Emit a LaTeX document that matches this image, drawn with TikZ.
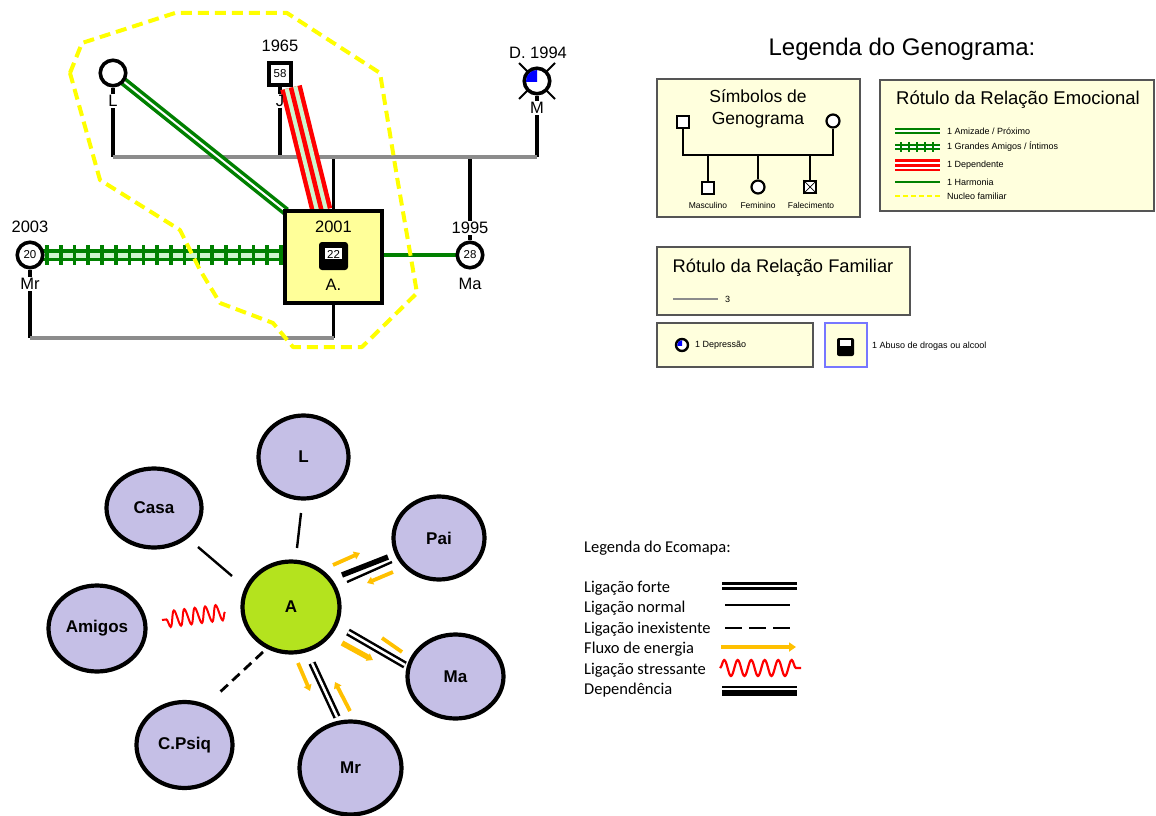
\documentclass[tikz,border=0pt]{standalone}
\usepackage{fontspec}
\setmainfont{Liberation Sans}
\newfontfamily\calfont{Carlito}
\usetikzlibrary{calc,decorations.pathmorphing,arrows.meta,shapes.geometric}
\newcommand{\myfs}[1]{\fontsize{#1}{#1}\selectfont}
\definecolor{gline}{HTML}{8C8C8C}
\definecolor{ggreen}{HTML}{008000}
\definecolor{lgreen}{HTML}{CFF5CF}
\definecolor{gred}{HTML}{FF0000}
\definecolor{ayellow}{HTML}{FFFF99}
\definecolor{nucleo}{HTML}{FFFF00}
\definecolor{legfill}{HTML}{FFFFDD}
\definecolor{legborder}{HTML}{555555}
\definecolor{bluebrd}{HTML}{7777FF}
\definecolor{lav}{HTML}{C5BFE6}
\definecolor{lime}{HTML}{B4E31E}
\definecolor{energy}{HTML}{FFC000}
\pgfdeclarelayer{bg}
\pgfsetlayers{bg,main}
\tikzset{
  lbl/.style={font=\myfs{16.5}, inner sep=1pt},
  fem/.style={circle, draw, line width=3.6, fill=white, minimum size=25.5, inner sep=0},
  male/.style={rectangle, draw, line width=3.6, fill=white, minimum size=22.5, inner sep=0},
  abox/.style={rectangle, draw, line width=4, fill=ayellow, minimum width=97, minimum height=92},
  famline/.style={draw=gline, line width=4.5},
  vline/.style={draw=black, line width=3.5},
  legbox/.style={fill=legfill, draw=legborder, line width=1.6},
  small/.style={font=\myfs{9}, inner sep=0, anchor=west},
  smale/.style={rectangle, draw, line width=2.2, fill=white, minimum size=11.5, inner sep=0},
  sfem/.style={circle, draw, line width=2.2, fill=white, minimum size=13, inner sep=0},
  sline/.style={draw=black, line width=2.4},
  eco/.style={ellipse, draw, line width=4.2, fill=lav, font=\bfseries\myfs{17}, inner sep=0},
  enorm/.style={draw=black, line width=2.4},
  energyarrow/.style={draw=energy, line width=3.8, -{Triangle[length=6pt,width=8pt]}},
  ecoleg/.style={font=\calfont\myfs{16.5}, anchor=base west, inner sep=0},
}
\begin{document}
\begin{tikzpicture}[x=1pt,y=-1pt]
\begin{pgfonlayer}{bg}
\fill[white] (0,0) rectangle (1156,816);
\end{pgfonlayer}
\useasboundingbox (0,0) rectangle (1156,816);

% ================= GENOGRAM =================
\node[fem] (L) at (113,73) {};
\node[male] (J) at (280,74) {\myfs{11.5}58};
\node[fem] (M) at (537,81) {};
\node[abox] (A) at (333.5,256.5) {};
\node[fem] (Ma) at (470,255) {\myfs{11.5}28};
\node[fem] (Mr) at (30,255) {\myfs{11.5}20};
\coordinate (sib) at (0,157);
\coordinate (bot) at (0,338);
\node[lbl] (tJ) at (280,101) {J};

% depression quarter in M
\begin{scope}
\clip (M.center) rectangle ++(-13,-13);
\fill[blue] (M.center) circle[radius=11pt];
\end{scope}

\begin{pgfonlayer}{bg}
% deceased marks
\draw[line width=1.8] ($(M)+(-18,-18)$) -- ($(M)+(18,18)$);
\draw[line width=1.8] ($(M)+(18,-18)$) -- ($(M)+(-18,18)$);
% family lines
\draw[vline] (L.south) -- (L.south |- sib);
\draw[vline] (J.south) -- (tJ.north);
\draw[vline] (tJ.south) -- (tJ.south |- sib);
\draw[vline] (M.south) -- (M.south |- sib);
\draw[vline] (A.north) -- (A.north |- sib);
\draw[vline] (Ma.north) -- (Ma.north |- sib);
\draw[famline] (L.south |- sib) -- (M.south |- sib);
\draw[vline] (Mr.south) -- (Mr.south |- bot);
\draw[vline] (A.south) -- (A.south |- bot);
\draw[famline] (Mr.south |- bot) -- (A.south |- bot);
% emotional relations
\draw[ggreen, line width=9] (L.center) -- ($(A.north west)+(3,3)$);
\draw[white, line width=2] (L.center) -- ($(A.north west)+(3,3)$);
\coordinate (Jr) at ($(J.south)+(11,0.5)$);
\coordinate (Ar) at ($(A.north)+(-12,2)$);
\draw[gred, line width=22] (Jr) -- (Ar);
\draw[lgreen, line width=13] (Jr) -- (Ar);
\draw[gred, line width=4.5] (Jr) -- (Ar);
\draw[ggreen, line width=12.5] (Mr.center) -- (Mr.center -| A.center);
\draw[lgreen, line width=5] (Mr.center) -- (Mr.center -| A.center);
\foreach \i in {0,...,17}
  \draw[ggreen, line width=3.6] ($(Mr.center)+(17+13.76*\i,-10)$) -- ++(0,20);
\draw[ggreen, line width=4.5] (A.center |- Ma.center) -- (Ma.center);
\end{pgfonlayer}

% A icon
\node[fill=black, rounded corners=3pt, minimum width=29, minimum height=28, inner sep=0] (Aicon) at (333.5,256) {};
\node[fill=white, minimum width=17, minimum height=11, inner sep=0] (Aiconw) at (333.5,253.5) {};
\node[font=\myfs{11.5}, inner sep=0] (Aage) at (333.5,254.5) {22};

% labels
\node[lbl, fill=white] (tL) at (113,101) {L};
\node[lbl] (tJy) at (280,46) {1965};
\node[lbl] (tMy) at (538,53) {D. 1994};
\node[lbl, fill=white] (tM) at (537,108) {M};
\node[lbl] (tAy) at (333.5,227) {2001};
\node[lbl] (tA) at (333.5,285) {A.};
\node[lbl, fill=white] (tMay) at (470,228) {1995};
\node[lbl] (tMa) at (470,284) {Ma};
\node[lbl] (tMry) at (30,227) {2003};
\node[lbl, fill=white] (tMr) at (30,284) {Mr};

% nucleo familiar
\draw[nucleo, line width=4, dash pattern=on 11pt off 6pt, line join=round]
  (70,73) -- (82,43) -- (175,13) -- (287,13) -- (380,73) -- (397,177) -- (417,293)
  -- (362,347) -- (293,347) -- (273,323) -- (220,303) -- (200,270) -- (180,230)
  -- (100,180) -- cycle;

% ================= GENOGRAM LEGEND =================
\node[font=\myfs{24}] (legtitle) at (902,49) {Legenda do Genograma:};

% box 1
\draw[legbox] (657,79) rectangle (860,217);
\node[font=\fontsize{17.5}{22}\selectfont, align=center] (symtitle) at (758,109) {Símbolos de\\Genograma};
\node[smale] (s1) at (683,122) {};
\node[sfem] (s2) at (833,121) {};
\node[smale] (c1) at (708,188) {};
\node[sfem] (c2) at (758,187) {};
\node[smale] (c3) at (810,187) {};
\draw[line width=0.7] (c3.north west) -- (c3.south east) (c3.north east) -- (c3.south west);
\coordinate (sb) at (0,155);
\draw[sline] (s1.south) -- (s1.south |- sb) -- (s2.south |- sb) -- (s2.south);
\draw[sline] (c1.north |- sb) -- (c1.north);
\draw[sline] (c2.north |- sb) -- (c2.north);
\draw[sline] (c3.north |- sb) -- (c3.north);
\node[font=\myfs{8.5}, inner sep=0] (c1t) at (708,205) {Masculino};
\node[font=\myfs{8.5}, inner sep=0] (c2t) at (758,205) {Feminino};
\node[font=\myfs{8.5}, inner sep=0] (c3t) at (811,205) {Falecimento};

% box 2
\draw[legbox] (880,80) rectangle (1154,211);
\node[font=\myfs{18.5}] (emotitle) at (1018,100) {Rótulo da Relação Emocional};
\draw[ggreen, line width=5.5] (895,131) -- (940,131);
\draw[white, line width=1.5] (895,131) -- (940,131);
\draw[ggreen, line width=5.5] (895,147) -- (940,147);
\draw[white, line width=1.5] (895,147) -- (940,147);
\foreach \x in {901,909,917,925,933}
  \draw[ggreen, line width=2.2] (\x,142) -- (\x,152);
\draw[gred, line width=12.5] (895,165) -- (940,165);
\draw[white, line width=7] (895,165) -- (940,165);
\draw[gred, line width=3] (895,165) -- (940,165);
\draw[ggreen, line width=2.8] (895,182) -- (940,182);
\draw[nucleo, line width=2.8, dash pattern=on 5pt off 3pt] (895,196) -- (940,196);
\node[small] (e1) at (947,131) {1 Amizade / Próximo};
\node[small] (e2) at (947,147) {1 Grandes Amigos / Íntimos};
\node[small] (e3) at (947,165) {1 Dependente};
\node[small] (e4) at (947,182) {1 Harmonia};
\node[small] (e5) at (947,196) {Nucleo familiar};

% box 3
\draw[legbox] (657,247) rectangle (910,315);
\node[font=\myfs{18.3}] (famtitle) at (783,268) {Rótulo da Relação Familiar};
\draw[gline, line width=2.8] (673,299) -- (718,299);
\node[small] (f1) at (725,299) {3};

% box 4
\draw[legbox] (657,323) rectangle (813,367);
\node[circle, draw, line width=2.4, fill=white, minimum size=12, inner sep=0] (dep) at (682,345) {};
\begin{scope}
\clip (dep.center) rectangle ++(-8,-8);
\fill[blue] (dep.center) circle[radius=4.8pt];
\end{scope}
\node[small] (d1) at (695,345) {1 Depressão};

% box 5
\draw[fill=legfill, draw=bluebrd, line width=2] (825,323) rectangle (867,367);
\node[fill=black, rounded corners=2pt, minimum width=17, minimum height=18, inner sep=0] (abuse) at (845.5,347) {};
\node[fill=white, minimum width=11, minimum height=6, inner sep=0] (abusew) at (845.5,343) {};
\node[small] (ab1) at (872,346) {1 Abuso de drogas ou alcool};

% ================= ECOMAP =================
\node[eco, minimum width=90, minimum height=83] (eL) at (303.5,457) {L};
\node[eco, minimum width=95, minimum height=79] (eCasa) at (154,508) {Casa};
\node[eco, minimum width=91, minimum height=83] (ePai) at (439,538) {Pai};
\node[eco, minimum width=97, minimum height=86] (eAm) at (97,628.5) {Amigos};
\node[eco, fill=lime, minimum width=97, minimum height=91] (eA) at (291,607) {A};
\node[eco, minimum width=96, minimum height=84] (eMa) at (455.5,676.5) {Ma};
\node[eco, minimum width=96, minimum height=86] (eCP) at (184.5,745) {C.Psiq};
\node[eco, minimum width=102, minimum height=93] (eMr) at (350.5,768) {Mr};

% connectors
\coordinate (l1) at (297,548); \coordinate (l2) at (301,513);
\draw[enorm] (l1) -- (l2);
\coordinate (ca1) at (232,576); \coordinate (ca2) at (198,547);
\draw[enorm] (ca1) -- (ca2);
\coordinate (am1) at (225,612); \coordinate (am2) at (162,620);
\draw[gred, line width=2, decorate, decoration={snake, amplitude=8pt, segment length=10.5pt}] (am1) -- (am2);
\coordinate (cp1) at (263,652); \coordinate (cp2) at (219,693);
\draw[black, line width=2.8, dash pattern=on 10pt off 6pt] (cp1) -- (cp2);
\coordinate (p1) at (342,575); \coordinate (p2) at (388,557);
\coordinate (p3) at (347,582); \coordinate (p4) at (392,562);
\draw[black, line width=5.5] (p1) -- (p2);
\draw[black, line width=2.4] (p3) -- (p4);
\coordinate (m1) at (348,632); \coordinate (m2) at (405,665);
\draw[black, line width=7.5] (m1) -- (m2);
\draw[white, line width=2.5] (m1) -- (m2);
\coordinate (r1) at (312,663); \coordinate (r2) at (337,717);
\draw[black, line width=7.5] (r1) -- (r2);
\draw[white, line width=2.5] (r1) -- (r2);
% energy flows
\coordinate (pe1) at (333,565); \coordinate (pe2) at (360,553);
\draw[energyarrow] (pe1) -- (pe2);
\coordinate (pe3) at (393,572); \coordinate (pe4) at (367,583);
\draw[energyarrow] (pe3) -- (pe4);
\coordinate (me1) at (342,643); \coordinate (me2) at (373,660);
\draw[energyarrow, line width=5.5] (me1) -- (me2);
\coordinate (me3) at (402,652); \coordinate (me4) at (382,638);
\draw[draw=energy, line width=3.8] (me3) -- (me4);
\coordinate (re1) at (298,663); \coordinate (re2) at (310,691);
\draw[energyarrow] (re1) -- (re2);
\coordinate (re3) at (350,711); \coordinate (re4) at (335,682);
\draw[energyarrow] (re3) -- (re4);

% ================= ECOMAP LEGEND =================
\node[ecoleg] (elt) at (584,552) {Legenda do Ecomapa:};
\node[ecoleg] (el1) at (584,592) {Ligação forte};
\node[ecoleg] (el2) at (584,612.5) {Ligação normal};
\node[ecoleg] (el3) at (584,633) {Ligação inexistente};
\node[ecoleg] (el4) at (584,653.5) {Fluxo de energia};
\node[ecoleg] (el5) at (584,674) {Ligação stressante};
\node[ecoleg] (el6) at (584,694.5) {Dependência};
\draw[black, line width=8] (722,585.8) -- (797,585.8);
\draw[white, line width=2.5] (722,585.8) -- (797,585.8);
\draw[black, line width=2.8] (725,605) -- (790,605);
\draw[black, line width=2.8, dash pattern=on 17pt off 7pt] (725,628) -- (790,628);
\draw[draw=energy, line width=4.2, -{Triangle[length=7pt,width=9pt]}] (721,647) -- (796,647);
\draw[gred, line width=2.2, decorate, decoration={snake, amplitude=8pt, segment length=13.5pt}] (720,668) -- (801,668);
\draw[black, line width=2.4] (722,687) -- (797,687);
\draw[black, line width=5.5] (722,693) -- (797,693);
\end{tikzpicture}
\end{document}
